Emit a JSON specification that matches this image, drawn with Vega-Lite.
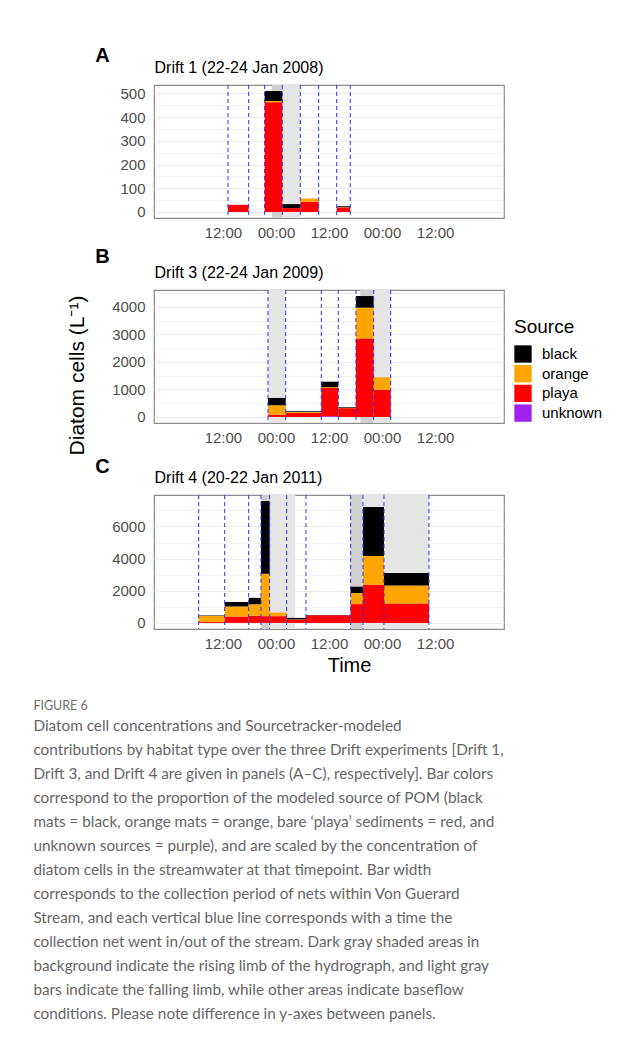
{
  "$schema": "https://vega.github.io/schema/vega-lite/v6.json",
  "background": "white",
  "padding": {"left": 33, "top": 44, "right": 5, "bottom": 5},
  "config": {
    "font": "Liberation Sans",
    "view": {"stroke": "#8c8c8c", "strokeWidth": 1.2},
    "axis": {
      "ticks": false, "tickSize": 0, "domain": false,
      "labelFont": "Liberation Sans", "labelFontSize": 15, "labelColor": "#4d4d4d",
      "gridColor": "#ebebeb", "labelOverlap": false, "labelFlush": false,
      "titleFont": "Liberation Sans", "titleColor": "black", "titleFontWeight": "normal"
    },
    "axisX": {"labelPadding": 7},
    "axisY": {"labelPadding": 9}
  },
  "datasets": {
    "bars": [
      {"panel": "A", "start": -10.86, "end": -6.18, "source": "playa", "value": 30},
      {"panel": "A", "start": -2.56, "end": 1.43, "source": "playa", "value": 463},
      {"panel": "A", "start": -2.56, "end": 1.43, "source": "orange", "value": 5},
      {"panel": "A", "start": -2.56, "end": 1.43, "source": "black", "value": 42},
      {"panel": "A", "start": 1.43, "end": 5.5, "source": "playa", "value": 16},
      {"panel": "A", "start": 1.43, "end": 5.5, "source": "black", "value": 17},
      {"panel": "A", "start": 5.5, "end": 9.66, "source": "playa", "value": 43},
      {"panel": "A", "start": 5.5, "end": 9.66, "source": "orange", "value": 14},
      {"panel": "A", "start": 13.74, "end": 16.81, "source": "playa", "value": 19},
      {"panel": "A", "start": 13.74, "end": 16.81, "source": "orange", "value": 1},
      {"panel": "A", "start": 13.74, "end": 16.81, "source": "black", "value": 4},
      {"panel": "B", "start": -1.81, "end": 2.2, "source": "playa", "value": 80},
      {"panel": "B", "start": -1.81, "end": 2.2, "source": "orange", "value": 345},
      {"panel": "B", "start": -1.81, "end": 2.2, "source": "black", "value": 265},
      {"panel": "B", "start": 2.2, "end": 10.25, "source": "playa", "value": 150},
      {"panel": "B", "start": 2.2, "end": 10.25, "source": "orange", "value": 35},
      {"panel": "B", "start": 2.2, "end": 10.25, "source": "black", "value": 30},
      {"panel": "B", "start": 10.25, "end": 14.1, "source": "unknown", "value": 30},
      {"panel": "B", "start": 10.25, "end": 14.1, "source": "playa", "value": 1025},
      {"panel": "B", "start": 10.25, "end": 14.1, "source": "orange", "value": 25},
      {"panel": "B", "start": 10.25, "end": 14.1, "source": "black", "value": 200},
      {"panel": "B", "start": 14.1, "end": 18.1, "source": "playa", "value": 320},
      {"panel": "B", "start": 14.1, "end": 18.1, "source": "orange", "value": 10},
      {"panel": "B", "start": 14.1, "end": 18.1, "source": "black", "value": 25},
      {"panel": "B", "start": 18.1, "end": 22.1, "source": "playa", "value": 2850},
      {"panel": "B", "start": 18.1, "end": 22.1, "source": "orange", "value": 1120},
      {"panel": "B", "start": 18.1, "end": 22.1, "source": "black", "value": 420},
      {"panel": "B", "start": 22.1, "end": 25.96, "source": "playa", "value": 980},
      {"panel": "B", "start": 22.1, "end": 25.96, "source": "orange", "value": 460},
      {"panel": "C", "start": -17.49, "end": -11.61, "source": "playa", "value": 60},
      {"panel": "C", "start": -17.49, "end": -11.61, "source": "orange", "value": 380},
      {"panel": "C", "start": -17.49, "end": -11.61, "source": "black", "value": 30},
      {"panel": "C", "start": -11.61, "end": -6.18, "source": "playa", "value": 400},
      {"panel": "C", "start": -11.61, "end": -6.18, "source": "orange", "value": 620},
      {"panel": "C", "start": -11.61, "end": -6.18, "source": "black", "value": 280},
      {"panel": "C", "start": -6.18, "end": -3.39, "source": "playa", "value": 450},
      {"panel": "C", "start": -6.18, "end": -3.39, "source": "orange", "value": 710},
      {"panel": "C", "start": -6.18, "end": -3.39, "source": "black", "value": 400},
      {"panel": "C", "start": -3.39, "end": -1.43, "source": "playa", "value": 420},
      {"panel": "C", "start": -3.39, "end": -1.43, "source": "orange", "value": 2640},
      {"panel": "C", "start": -3.39, "end": -1.43, "source": "black", "value": 4520},
      {"panel": "C", "start": -1.43, "end": 2.42, "source": "playa", "value": 420},
      {"panel": "C", "start": -1.43, "end": 2.42, "source": "orange", "value": 225},
      {"panel": "C", "start": 2.42, "end": 6.79, "source": "playa", "value": 210},
      {"panel": "C", "start": 2.42, "end": 6.79, "source": "orange", "value": 10},
      {"panel": "C", "start": 2.42, "end": 6.79, "source": "black", "value": 90},
      {"panel": "C", "start": 6.79, "end": 16.9, "source": "playa", "value": 470},
      {"panel": "C", "start": 6.79, "end": 16.9, "source": "black", "value": 20},
      {"panel": "C", "start": 16.9, "end": 19.69, "source": "playa", "value": 1170},
      {"panel": "C", "start": 16.9, "end": 19.69, "source": "orange", "value": 690},
      {"panel": "C", "start": 16.9, "end": 19.69, "source": "black", "value": 390},
      {"panel": "C", "start": 19.69, "end": 24.44, "source": "playa", "value": 2370},
      {"panel": "C", "start": 19.69, "end": 24.44, "source": "orange", "value": 1790},
      {"panel": "C", "start": 19.69, "end": 24.44, "source": "black", "value": 3060},
      {"panel": "C", "start": 24.44, "end": 34.62, "source": "playa", "value": 1200},
      {"panel": "C", "start": 24.44, "end": 34.62, "source": "orange", "value": 1130},
      {"panel": "C", "start": 24.44, "end": 34.62, "source": "black", "value": 780}
    ],
    "shades": [
      {"panel": "A", "start": -0.9, "end": 1.43, "limb": "rise"},
      {"panel": "A", "start": 1.43, "end": 5.5, "limb": "fall"},
      {"panel": "B", "start": -1.81, "end": 2.2, "limb": "fall"},
      {"panel": "B", "start": 19.08, "end": 22.1, "limb": "rise"},
      {"panel": "B", "start": 22.1, "end": 25.96, "limb": "fall"},
      {"panel": "C", "start": -3.33, "end": -1.36, "limb": "rise"},
      {"panel": "C", "start": -1.36, "end": 4.37, "limb": "fall"},
      {"panel": "C", "start": 16.81, "end": 19.62, "limb": "rise"},
      {"panel": "C", "start": 19.62, "end": 34.56, "limb": "fall"}
    ],
    "nets": [
      {"panel": "A", "start": -10.86}, {"panel": "A", "start": -6.18}, {"panel": "A", "start": -2.56}, {"panel": "A", "start": 1.43},
      {"panel": "A", "start": 5.5}, {"panel": "A", "start": 9.66}, {"panel": "A", "start": 13.74}, {"panel": "A", "start": 16.81},
      {"panel": "B", "start": -1.81}, {"panel": "B", "start": 2.2}, {"panel": "B", "start": 10.25}, {"panel": "B", "start": 14.1},
      {"panel": "B", "start": 18.1}, {"panel": "B", "start": 22.1}, {"panel": "B", "start": 25.96},
      {"panel": "C", "start": -17.49}, {"panel": "C", "start": -11.61}, {"panel": "C", "start": -6.18}, {"panel": "C", "start": -3.39},
      {"panel": "C", "start": -1.43}, {"panel": "C", "start": 2.42}, {"panel": "C", "start": 6.79}, {"panel": "C", "start": 16.9},
      {"panel": "C", "start": 19.69}, {"panel": "C", "start": 24.44}, {"panel": "C", "start": 34.62}
    ]
  },
  "title": {
    "text": "FIGURE 6",
    "subtitle": [
      "Diatom cell concentrations and Sourcetracker-modeled",
      "contributions by habitat type over the three Drift experiments [Drift 1,",
      "Drift 3, and Drift 4 are given in panels (A–C), respectively]. Bar colors",
      "correspond to the proportion of the modeled source of POM (black",
      "mats = black, orange mats = orange, bare ‘playa’ sediments = red, and",
      "unknown sources = purple), and are scaled by the concentration of",
      "diatom cells in the streamwater at that timepoint. Bar width",
      "corresponds to the collection period of nets within Von Guerard",
      "Stream, and each vertical blue line corresponds with a time the",
      "collection net went in/out of the stream. Dark gray shaded areas in",
      "background indicate the rising limb of the hydrograph, and light gray",
      "bars indicate the falling limb, while other areas indicate baseflow",
      "conditions. Please note difference in y-axes between panels."
    ],
    "orient": "bottom", "anchor": "start", "frame": "bounds", "dx": -32, "offset": 24,
    "font": "Lato", "fontSize": 12.5, "fontWeight": "normal", "color": "#6e6e6e",
    "subtitleFont": "Lato", "subtitleFontSize": 15.3, "subtitleColor": "#666666",
    "subtitleLineHeight": 24, "subtitlePadding": 6
  },
  "bounds": "flush",
  "spacing": 72,
  "resolve": {"scale": {"y": "independent"}, "legend": {"color": "independent"}},
  "vconcat": [
    {
      "width": 350, "height": 133,
      "resolve": {"axis": {"x": "independent"}},
      "layer": [
        {"data": {"name": "shades"}, "transform": [{"filter": "datum.panel === 'A'"}], "mark": "rect",
         "encoding": {
           "x": {"field": "start", "type": "quantitative", "scale": {"domain": [-27.6, 51.6], "nice": false, "zero": false}, "axis": null},
           "x2": {"field": "end"},
           "fill": {"field": "limb", "type": "nominal", "scale": {"domain": ["rise", "fall"], "range": ["#cfcfcf", "#e5e5e5"]}, "legend": null}}},
        {"data": {"name": "bars"}, "transform": [{"filter": "datum.panel === 'A'"},
           {"stack": "value", "groupby": ["start"], "sort": [{"field": "source", "order": "descending"}], "as": ["v0", "v1"]}],
         "mark": "rect",
         "encoding": {
           "x": {"field": "start", "type": "quantitative",
             "scale": {"domain": [-27.6, 51.6], "nice": false, "zero": false},
             "axis": {"orient": "bottom", "values": [-24, -18, -12, -6, 0, 6, 12, 18, 24, 30, 36, 42, 48],
               "labelExpr": "indexof([-12,0,12,24,36], datum.value) >= 0 ? (datum.value % 24 === 0 ? '00:00' : '12:00') : ''",
               "gridWidth": {"condition": {"test": "indexof([-12,0,12,24,36], datum.value) >= 0", "value": 1.1}, "value": 0.55},
               "title": null}},
           "x2": {"field": "end"},
           "y": {"field": "v0", "type": "quantitative", "scale": {"domain": [-25.5, 535.5], "nice": false, "zero": false},
             "axis": {"values": [0, 50, 100, 150, 200, 250, 300, 350, 400, 450, 500], "format": "d",
               "labelExpr": "datum.value % 100 === 0 ? datum.label : ''",
               "gridWidth": {"condition": {"test": "datum.value % 100 === 0", "value": 1.1}, "value": 0.55},
               "title": "A", "titleAngle": 0, "titleX": -52, "titleY": -30, "titleAlign": "center", "titleBaseline": "middle",
               "titleFontSize": 20, "titleFontWeight": "bold"}},
           "y2": {"field": "v1"},
           "color": {"field": "source", "type": "nominal", "scale": {"domain": ["black", "orange", "playa", "unknown"], "range": ["#000000", "#ffa500", "#ff0000", "#a020f0"]}, "legend": null}}},
        {"data": {"name": "nets"}, "transform": [{"filter": "datum.panel === 'A'"}],
         "mark": {"type": "rule", "color": "#2f2ff5", "strokeWidth": 1, "strokeDash": [4, 3]},
         "encoding": {
           "x": {"field": "start", "type": "quantitative", "scale": {"domain": [-27.6, 51.6], "nice": false, "zero": false},
             "axis": {"orient": "top", "labels": false, "grid": false, "title": "Drift 1 (22-24 Jan 2008)",
               "titleX": 0, "titleY": -12.6, "titleAlign": "left", "titleBaseline": "alphabetic", "titleFontSize": 16}}}}
      ]
    },
    {
      "width": 350, "height": 133,
      "resolve": {"axis": {"x": "independent"}},
      "layer": [
        {"data": {"name": "shades"}, "transform": [{"filter": "datum.panel === 'B'"}], "mark": "rect",
         "encoding": {
           "x": {"field": "start", "type": "quantitative", "scale": {"domain": [-27.6, 51.6], "nice": false, "zero": false}, "axis": null},
           "x2": {"field": "end"},
           "fill": {"field": "limb", "type": "nominal", "scale": {"domain": ["rise", "fall"], "range": ["#cfcfcf", "#e5e5e5"]}, "legend": null}}},
        {"data": {"name": "bars"}, "transform": [{"filter": "datum.panel === 'B'"},
           {"stack": "value", "groupby": ["start"], "sort": [{"field": "source", "order": "descending"}], "as": ["v0", "v1"]}],
         "mark": "rect",
         "encoding": {
           "x": {"field": "start", "type": "quantitative",
             "scale": {"domain": [-27.6, 51.6], "nice": false, "zero": false},
             "axis": {"orient": "bottom", "values": [-24, -18, -12, -6, 0, 6, 12, 18, 24, 30, 36, 42, 48],
               "labelExpr": "indexof([-12,0,12,24,36], datum.value) >= 0 ? (datum.value % 24 === 0 ? '00:00' : '12:00') : ''",
               "gridWidth": {"condition": {"test": "indexof([-12,0,12,24,36], datum.value) >= 0", "value": 1.1}, "value": 0.55},
               "title": "B", "titleX": -52, "titleY": -167, "titleAlign": "center", "titleBaseline": "middle",
               "titleFontSize": 20, "titleFontWeight": "bold"}},
           "x2": {"field": "end"},
           "y": {"field": "v0", "type": "quantitative", "scale": {"domain": [-219.5, 4609.5], "nice": false, "zero": false},
             "axis": {"values": [0, 500, 1000, 1500, 2000, 2500, 3000, 3500, 4000, 4500], "format": "d",
               "labelExpr": "datum.value % 1000 === 0 ? datum.label : ''",
               "gridWidth": {"condition": {"test": "datum.value % 1000 === 0", "value": 1.1}, "value": 0.55},
               "title": "Diatom cells (L⁻¹)", "titleAngle": 270, "titleX": -77, "titleY": 85, "titleAlign": "center", "titleBaseline": "middle",
               "titleFontSize": 21}},
           "y2": {"field": "v1"},
           "color": {"field": "source", "type": "nominal", "scale": {"domain": ["black", "orange", "playa", "unknown"], "range": ["#000000", "#ffa500", "#ff0000", "#a020f0"]},
             "legend": {"orient": "none", "legendX": 360, "legendY": 28, "title": "Source", "titleFontSize": 19, "titleFontWeight": "normal", "titleColor": "black",
               "titleFont": "Liberation Sans", "labelFont": "Liberation Sans", "labelFontSize": 15, "labelColor": "black",
               "symbolType": "square", "symbolSize": 300, "symbolStrokeWidth": 0, "rowPadding": 1.7, "titlePadding": 8, "labelOffset": 10}}}},
        {"data": {"name": "nets"}, "transform": [{"filter": "datum.panel === 'B'"}],
         "mark": {"type": "rule", "color": "#2f2ff5", "strokeWidth": 1, "strokeDash": [4, 3]},
         "encoding": {
           "x": {"field": "start", "type": "quantitative", "scale": {"domain": [-27.6, 51.6], "nice": false, "zero": false},
             "axis": {"orient": "top", "labels": false, "grid": false, "title": "Drift 3 (22-24 Jan 2009)",
               "titleX": 0, "titleY": -12.6, "titleAlign": "left", "titleBaseline": "alphabetic", "titleFontSize": 16}}}}
      ]
    },
    {
      "width": 350, "height": 134,
      "resolve": {"axis": {"x": "independent"}},
      "layer": [
        {"data": {"name": "shades"}, "transform": [{"filter": "datum.panel === 'C'"}], "mark": "rect",
         "encoding": {
           "x": {"field": "start", "type": "quantitative", "scale": {"domain": [-27.6, 51.6], "nice": false, "zero": false}, "axis": null},
           "x2": {"field": "end"},
           "fill": {"field": "limb", "type": "nominal", "scale": {"domain": ["rise", "fall"], "range": ["#cfcfcf", "#e5e5e5"]}, "legend": null}}},
        {"data": {"name": "bars"}, "transform": [{"filter": "datum.panel === 'C'"},
           {"stack": "value", "groupby": ["start"], "sort": [{"field": "source", "order": "descending"}], "as": ["v0", "v1"]}],
         "mark": "rect",
         "encoding": {
           "x": {"field": "start", "type": "quantitative",
             "scale": {"domain": [-27.6, 51.6], "nice": false, "zero": false},
             "axis": {"orient": "bottom", "values": [-24, -18, -12, -6, 0, 6, 12, 18, 24, 30, 36, 42, 48],
               "labelExpr": "indexof([-12,0,12,24,36], datum.value) >= 0 ? (datum.value % 24 === 0 ? '00:00' : '12:00') : ''",
               "gridWidth": {"condition": {"test": "indexof([-12,0,12,24,36], datum.value) >= 0", "value": 1.1}, "value": 0.55},
               "title": "Time", "titleX": 195, "titleY": 42.7, "titleAlign": "center", "titleBaseline": "alphabetic", "titleFontSize": 20}},
           "x2": {"field": "end"},
           "y": {"field": "v0", "type": "quantitative", "scale": {"domain": [-379, 7959], "nice": false, "zero": false},
             "axis": {"values": [0, 1000, 2000, 3000, 4000, 5000, 6000, 7000], "format": "d",
               "labelExpr": "datum.value % 2000 === 0 ? datum.label : ''",
               "gridWidth": {"condition": {"test": "datum.value % 2000 === 0", "value": 1.1}, "value": 0.55},
               "title": "C", "titleAngle": 0, "titleX": -52, "titleY": -28.3, "titleAlign": "center", "titleBaseline": "middle",
               "titleFontSize": 20, "titleFontWeight": "bold"}},
           "y2": {"field": "v1"},
           "color": {"field": "source", "type": "nominal", "scale": {"domain": ["black", "orange", "playa", "unknown"], "range": ["#000000", "#ffa500", "#ff0000", "#a020f0"]}, "legend": null}}},
        {"data": {"name": "nets"}, "transform": [{"filter": "datum.panel === 'C'"}],
         "mark": {"type": "rule", "color": "#2f2ff5", "strokeWidth": 1, "strokeDash": [4, 3]},
         "encoding": {
           "x": {"field": "start", "type": "quantitative", "scale": {"domain": [-27.6, 51.6], "nice": false, "zero": false},
             "axis": {"orient": "top", "labels": false, "grid": false, "title": "Drift 4 (20-22 Jan 2011)",
               "titleX": 0, "titleY": -12.6, "titleAlign": "left", "titleBaseline": "alphabetic", "titleFontSize": 16}}}}
      ]
    }
  ]
}
